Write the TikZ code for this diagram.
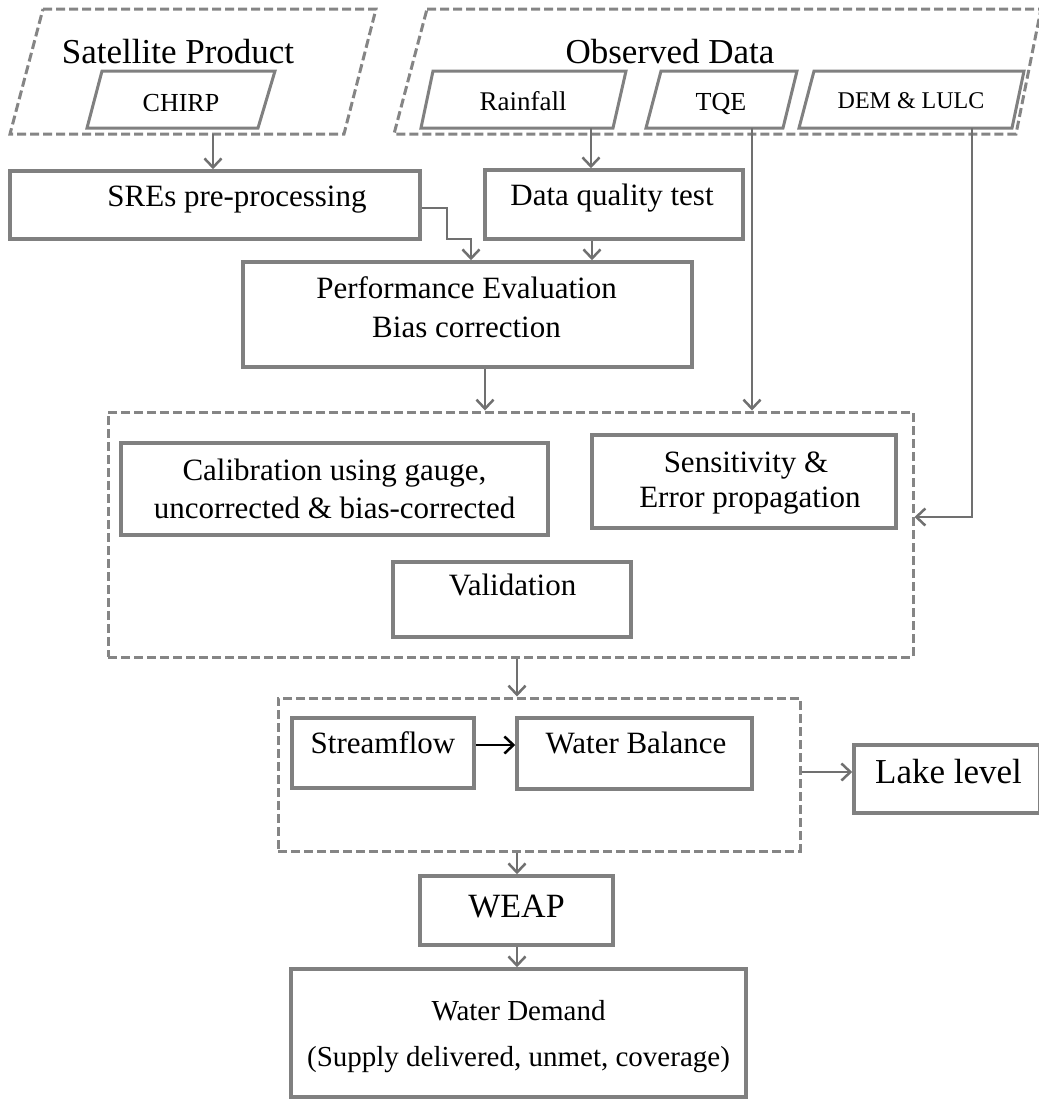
\documentclass[tikz,border=0pt]{standalone}
\usepackage{fontspec}
\setmainfont{Liberation Serif}
\usetikzlibrary{arrows.meta}
\definecolor{bordergray}{HTML}{808080}
\definecolor{linegray}{HTML}{707070}
\definecolor{dashgray}{HTML}{858585}
\begin{document}
\begin{tikzpicture}[x=1pt,y=-1pt,
  box/.style={draw=bordergray, line width=3.5pt, rectangle, inner sep=0pt},
  dbox/.style={draw=dashgray, line width=3pt, dash pattern=on 9pt off 4pt, rectangle, inner sep=0pt},
  para/.style={draw=bordergray, line width=3pt, line join=miter},
  dpara/.style={draw=dashgray, line width=3pt, dash pattern=on 9pt off 4pt},
  conn/.style={draw=linegray, line width=2.5pt, -{Straight Barb[length=9pt,width=17pt]}},
  bconn/.style={draw=black, line width=2.5pt, -{Straight Barb[length=9pt,width=17pt]}},
  txt/.style={anchor=base, inner sep=0pt, align=center},
  fbig/.style={font=\fontsize{35}{40}\selectfont},
  fmid/.style={font=\fontsize{31}{38}\selectfont},
]
\useasboundingbox (0,0) rectangle (1039,1112);

% --- top input groups ---
\begin{scope}
\clip (0,0) rectangle (1039,1112);
\draw[dpara] (43,9) -- (376,9) -- (344,134) -- (10,134) -- cycle;
\draw[dpara] (427,9) -- (1041,9) -- (1016,134) -- (394,134) -- cycle;
\end{scope}
\node[txt, fbig] (satt) at (178,63) {Satellite Product};
\node[txt, fbig] (obst) at (670,63) {Observed Data};

\draw[para] (102,71) -- (275,71) -- (258,128) -- (87,128) -- cycle;
\node[txt, font=\fontsize{26}{30}\selectfont] (chirp) at (181,111) {CHIRP};
\draw[para] (433,71) -- (626,71) -- (613,128) -- (421,128) -- cycle;
\node[txt, font=\fontsize{27}{30}\selectfont] (rain) at (523,110) {Rainfall};
\draw[para] (661,71) -- (797,71) -- (783,128) -- (646,128) -- cycle;
\node[txt, font=\fontsize{26}{30}\selectfont] (tqe) at (721,110) {TQE};
\draw[para] (814,71) -- (1024,71) -- (1012,128) -- (799,128) -- cycle;
\node[txt, font=\fontsize{24}{30}\selectfont] (dem) at (911,108) {DEM \& LULC};

% --- boxes ---
\node[box, minimum width=410pt, minimum height=68pt] (sre) at (215,205) {};
\node[txt, fmid] (sret) at (237,206) {SREs pre-processing};
\node[box, minimum width=258pt, minimum height=69pt] (dqt) at (614,204.5) {};
\node[txt, fmid] (dqtt) at (612,205) {Data quality test};
\node[box, minimum width=449pt, minimum height=105pt] (perf) at (467.5,314.5) {};
\node[txt, font=\fontsize{31}{39}\selectfont] (perft) at (466.5,337) {Performance Evaluation\\Bias correction};

\node[dbox, minimum width=805pt, minimum height=245pt] (dash1) at (510.5,534.5) {};
\node[box, minimum width=427pt, minimum height=92pt] (calib) at (334.5,489) {};
\node[txt, fmid] (calibt) at (334.5,518) {Calibration using gauge,\\uncorrected \& bias-corrected};
\node[box, minimum width=304pt, minimum height=93pt] (sens) at (744,481.5) {};
\node[txt, font=\fontsize{31}{35}\selectfont] (senst) at (746,507) {Sensitivity \&\\\ Error propagation};
\node[box, minimum width=238pt, minimum height=75pt] (valid) at (512,599.5) {};
\node[txt, fmid] (validt) at (512.5,595) {Validation};

\node[dbox, minimum width=522pt, minimum height=153pt] (dash2) at (539,774.5) {};
\node[box, minimum width=182pt, minimum height=70pt] (stream) at (383,753) {};
\node[txt, fmid] (streamt) at (383,753) {Streamflow};
\node[box, minimum width=235pt, minimum height=71pt] (wb) at (634.5,753.5) {};
\node[txt, fmid] (wbt) at (636,753) {Water Balance};
\node[box, minimum width=186pt, minimum height=68pt] (lake) at (947,779) {};
\node[txt, fbig] (laket) at (948.5,783) {Lake level};

\node[box, minimum width=193pt, minimum height=69pt] (weap) at (516.5,910.5) {};
\node[txt, font=\fontsize{34}{40}\selectfont] (weapt) at (516.5,917) {WEAP};
\node[box, minimum width=455pt, minimum height=128pt] (wd) at (518.5,1033) {};
\node[txt, font=\fontsize{29}{46}\selectfont] (wdt) at (518.5,1066) {Water Demand\\(Supply delivered, unmet, coverage)};

% --- connectors ---
\coordinate (chirpb) at (213,134);
\coordinate (rainb) at (591,128);
\coordinate (tqeb) at (752,128);
\coordinate (demb) at (972,128);
\coordinate (demturn) at (972,517);
\coordinate (s1) at (447,208);
\coordinate (s2) at (471,239);
\coordinate (dq) at (592,0);
\coordinate (pf) at (485,0);
\coordinate (mid) at (517,0);
\coordinate (sw) at (0,745);
\coordinate (lk) at (0,772);

\draw[conn] (chirpb) -- (chirpb |- sre.north);
\draw[conn] (rainb) -- (rainb |- dqt.north);
\draw[conn] (tqeb) -- (tqeb |- dash1.north);
\draw[conn] (demb) -- (demturn) -- (demturn -| dash1.east);
\draw[conn] (s1 -| sre.east) -- (s1) -- (s1 |- s2) -- (s2) -- (s2 |- perf.north);
\draw[conn] (dq |- dqt.south) -- (dq |- perf.north);
\draw[conn] (pf |- perf.south) -- (pf |- dash1.north);
\draw[conn] (mid |- dash1.south) -- (mid |- dash2.north);
\draw[bconn] (sw -| stream.east) -- (sw -| wb.west);
\draw[conn] (lk -| dash2.east) -- (lk -| lake.west);
\draw[conn] (mid |- dash2.south) -- (mid |- weap.north);
\draw[conn] (mid |- weap.south) -- (mid |- wd.north);
\end{tikzpicture}
\end{document}
